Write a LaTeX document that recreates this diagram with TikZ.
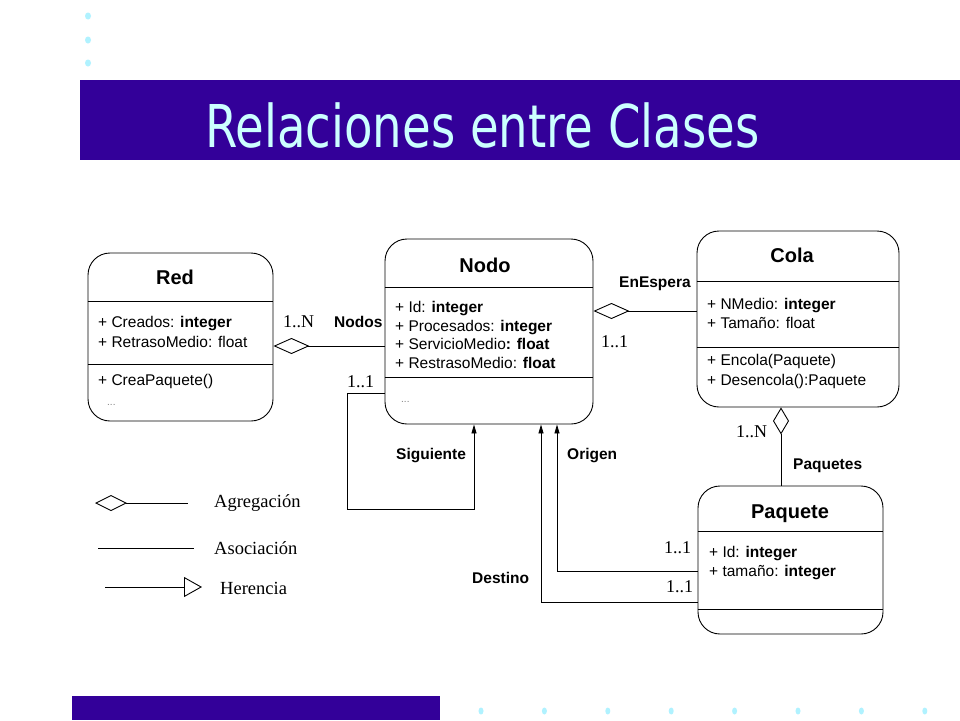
\documentclass[tikz,border=0pt]{standalone}
\usepackage{graphicx}
\usepackage{fontspec}
\setmainfont{Liberation Sans}
\newfontfamily\tms{Liberation Serif}
\newfontfamily\ttlfont{DejaVu Sans}
\usetikzlibrary{arrows.meta}
\definecolor{barblue}{HTML}{330099}
\definecolor{titlecyan}{HTML}{CCFFFF}
\definecolor{dotcyan}{HTML}{B0F2FF}
\begin{document}
\begin{tikzpicture}[x=1pt,y=-1pt,
  classbox/.style={draw, line width=0.9pt, rounded corners=22pt, inner sep=0pt},
  ctitle/.style={font=\bfseries\fontsize{20}{24}\selectfont, anchor=base, inner sep=0pt},
  attr/.style={font=\fontsize{15.5}{18}\selectfont, anchor=base west, inner sep=0pt},
  lbl/.style={font=\bfseries\fontsize{15.5}{18}\selectfont, anchor=base west, inner sep=0pt},
  mult/.style={font=\tms\fontsize{18}{22}\selectfont, anchor=base west, inner sep=0pt},
  leg/.style={font=\tms\fontsize{18.5}{22}\selectfont, anchor=base west, inner sep=0pt},
  dotsy/.style={font=\fontsize{10}{12}\selectfont, text=gray, anchor=base west, inner sep=0pt},
  sepline/.style={line width=0.9pt},
  conn/.style={line width=0.9pt},
  agg/.style={conn, {Diamond[open, length=36pt, width=16pt]}-},
  aggv/.style={conn, {Diamond[open, length=27pt, width=16pt]}-},
  arr/.style={conn, -{Triangle[length=9pt, width=5pt]}},
  bgdot/.style={fill=dotcyan}]

\useasboundingbox (0,0) rectangle (960,720);
\fill[white] (0,0) rectangle (960,720);

% decoration
\fill[bgdot] (88,16) ellipse (3 and 3.5);
\fill[bgdot] (88,40) ellipse (3 and 3.5);
\fill[bgdot] (88,63) ellipse (3 and 3.5);
\fill[barblue] (80,80) rectangle (960,160);
\node[anchor=base west, inner sep=0pt, text=titlecyan, font=\ttlfont\fontsize{59}{64}\selectfont] (title) at (205,147) {\scalebox{0.79}[1]{Relaciones entre Clases}};
\fill[barblue] (72,696) rectangle (440,720);
\foreach \i in {0,...,7} {\fill[bgdot] (481+63.4*\i,711) ellipse (2.5 and 3.5);}

% classes
\node[classbox, minimum width=185pt, minimum height=168pt] (red) at (180.5,337) {};
\node[classbox, minimum width=208pt, minimum height=185pt] (nodo) at (489,331.5) {};
\node[classbox, minimum width=202pt, minimum height=176pt] (cola) at (798,319) {};
\node[classbox, minimum width=185pt, minimum height=148pt] (paq) at (790.5,560) {};

\draw[sepline] (red.west |- 0,301) -- (red.east |- 0,301);
\draw[sepline] (red.west |- 0,364) -- (red.east |- 0,364);
\draw[sepline] (nodo.west |- 0,287) -- (nodo.east |- 0,287);
\draw[sepline] (nodo.west |- 0,377) -- (nodo.east |- 0,377);
\draw[sepline] (cola.west |- 0,281) -- (cola.east |- 0,281);
\draw[sepline] (cola.west |- 0,347) -- (cola.east |- 0,347);
\draw[sepline] (paq.west |- 0,531) -- (paq.east |- 0,531);
\draw[sepline] (paq.west |- 0,609) -- (paq.east |- 0,609);

\node[ctitle] (redt) at (175,284) {Red};
\node[attr] (red1) at (98,327) {+ Creados: \textbf{integer}};
\node[attr] (red2) at (98,347) {+ RetrasoMedio: float};
\node[attr] (red3) at (98,385) {+ CreaPaquete()};
\node[dotsy] (red4) at (107,405) {...};

\node[ctitle] (nodot) at (485,272) {Nodo};
\node[attr] (nodo1) at (395,312) {+ Id: \textbf{integer}};
\node[attr] (nodo2) at (395,331) {+ Procesados: \textbf{integer}};
\node[attr] (nodo3) at (395,349) {+ ServicioMedio\textbf{: float}};
\node[attr] (nodo4) at (395,368) {+ RestrasoMedio: \textbf{float}};
\node[dotsy] (nodo5) at (401,402) {...};

\node[ctitle] (colat) at (792,262) {Cola};
\node[attr] (cola1) at (707,309) {+ NMedio: \textbf{integer}};
\node[attr] (cola2) at (707,328) {+ Tamaño: float};
\node[attr] (cola3) at (707,365) {+ Encola(Paquete)};
\node[attr] (cola4) at (707,385) {+ Desencola():Paquete};

\node[ctitle] (paqt) at (790,518) {Paquete};
\node[attr] (paq1) at (709,557) {+ Id: \textbf{integer}};
\node[attr] (paq2) at (709,576) {+ tamaño: \textbf{integer}};

% connectors
\coordinate (r1) at (red.east |- 0,346);
\coordinate (n1) at (nodo.west |- 0,346);
\draw[agg] (r1) -- (n1);
\coordinate (n2) at (nodo.east |- 0,311);
\coordinate (c1) at (cola.west |- 0,311);
\draw[agg] (n2) -- (c1);
\coordinate (c2) at (cola.south -| 781,0);
\coordinate (p1) at (paq.north -| 781,0);
\draw[aggv] (c2) -- (p1);

\coordinate (s1) at (nodo.west |- 0,393);
\coordinate (s2) at (nodo.south -| 474,0);
\coordinate (sc) at (347,509);
\draw[arr] (s1) -| (sc) -| (s2);
\coordinate (o1) at (paq.west |- 0,571);
\coordinate (o2) at (nodo.south -| 557,0);
\draw[arr] (o1) -| (o2);
\coordinate (d1) at (paq.west |- 0,602);
\coordinate (d2) at (nodo.south -| 541,0);
\draw[arr] (d1) -| (d2);

% connector labels
\node[mult] (m1) at (283,327) {1..N};
\node[lbl] (l1) at (334,327) {Nodos};
\node[lbl] (l2) at (619,287) {EnEspera};
\node[mult] (m2) at (601,347) {1..1};
\node[mult] (m3) at (736,437) {1..N};
\node[lbl] (l3) at (793,469) {Paquetes};
\node[mult] (m4) at (347,387) {1..1};
\node[lbl] (l4) at (396,459) {Siguiente};
\node[lbl] (l5) at (567,459) {Origen};
\node[lbl] (l6) at (472,583) {Destino};
\node[mult] (m5) at (664,553) {1..1};
\node[mult] (m6) at (666,592) {1..1};

% legend
\coordinate (la1) at (95,503);
\coordinate (la2) at (188,503);
\draw[conn, {Diamond[open, length=32pt, width=16pt]}-] (la1) -- (la2);
\node[leg] (lg1) at (214,507) {Agregación};
\coordinate (lb1) at (98,548);
\coordinate (lb2) at (194,548);
\draw[conn] (lb1) -- (lb2);
\node[leg] (lg2) at (214,554) {Asociación};
\coordinate (lc1) at (105,587);
\coordinate (lc2) at (202,587);
\draw[conn, -{Triangle[open, length=18pt, width=20pt]}] (lc1) -- (lc2);
\node[leg] (lg3) at (220,594) {Herencia};
\end{tikzpicture}
\end{document}
